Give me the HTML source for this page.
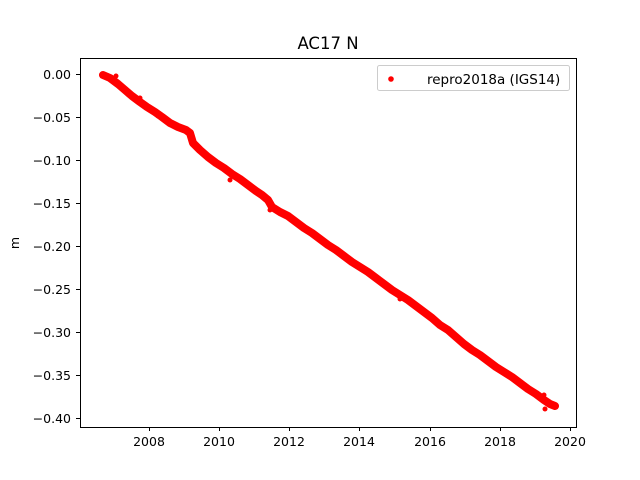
<!DOCTYPE html>
<html><head><meta charset="utf-8"><style>body{margin:0;background:#fff}svg{display:block}text{font-family:"DejaVu Sans","Liberation Sans",sans-serif;fill:#000}</style></head><body>
<svg width="640" height="480" viewBox="0 0 640 480">
<rect width="640" height="480" fill="#fff"/>
<text x="328" y="49" font-size="16.5" text-anchor="middle">AC17 N</text>
<g stroke="#f00" stroke-width="8" fill="none" stroke-linecap="round" stroke-linejoin="round">
<polyline points="103,75 110,78 118,84 125,90 132,96 140,102 147,107 155,112 162,117 170,123 178,127 186,130 190,133 193,143 200,150 208,157 216,163 224,168 232,174 240,179 248,185 256,191 262,195 268,200 272,207 280,212 288,216 296,222 304,228 312,233 320,239 328,245 336,250 344,256 352,262 360,267 368,272 376,278 384,284 392,290 400,295 408,300 416,306 424,312 432,318 440,325 448,330 456,337 464,344 472,350 480,355 488,361 496,367 504,372 512,377 520,383 528,389 536,394 544,400 550,404 555,406"/>
</g>
<g fill="#f00">
<circle cx="116" cy="76" r="2.5"/><circle cx="140" cy="98" r="2.5"/><circle cx="158" cy="116" r="2.5"/><circle cx="230" cy="180" r="2.5"/><circle cx="270" cy="210" r="2.5"/><circle cx="400" cy="299" r="2.5"/><circle cx="545" cy="409" r="2.5"/><circle cx="544" cy="395" r="2.5"/>
</g>
<rect x="80.5" y="58.5" width="496" height="369" fill="none" stroke="#000" stroke-width="1"/>
<g stroke="#000" stroke-width="1">
<line x1="80" y1="74.5" x2="76" y2="74.5"/><line x1="80" y1="117.5" x2="76" y2="117.5"/><line x1="80" y1="160.5" x2="76" y2="160.5"/><line x1="80" y1="203.5" x2="76" y2="203.5"/><line x1="80" y1="246.5" x2="76" y2="246.5"/><line x1="80" y1="289.5" x2="76" y2="289.5"/><line x1="80" y1="332.5" x2="76" y2="332.5"/><line x1="80" y1="375.5" x2="76" y2="375.5"/><line x1="80" y1="418.5" x2="76" y2="418.5"/>
<line x1="149.5" y1="427" x2="149.5" y2="431"/><line x1="219.5" y1="427" x2="219.5" y2="431"/><line x1="289.5" y1="427" x2="289.5" y2="431"/><line x1="359.5" y1="427" x2="359.5" y2="431"/><line x1="430.5" y1="427" x2="430.5" y2="431"/><line x1="500.5" y1="427" x2="500.5" y2="431"/><line x1="570.5" y1="427" x2="570.5" y2="431"/>
</g>
<g font-size="12.5" text-anchor="end">
<text x="71" y="79">0.00</text><text x="71" y="122">−0.05</text><text x="71" y="165">−0.10</text><text x="71" y="208">−0.15</text><text x="71" y="251">−0.20</text><text x="71" y="294">−0.25</text><text x="71" y="337">−0.30</text><text x="71" y="380">−0.35</text><text x="71" y="423">−0.40</text>
</g>
<g font-size="12.5" text-anchor="middle">
<text x="149" y="446">2008</text><text x="219" y="446">2010</text><text x="289" y="446">2012</text><text x="359" y="446">2014</text><text x="430" y="446">2016</text><text x="500" y="446">2018</text><text x="570" y="446">2020</text>
</g>
<text x="19" y="243" font-size="12.5" text-anchor="middle" transform="rotate(-90 19 243)">m</text>
<rect x="377.5" y="65.5" width="192" height="25" rx="2" fill="#fff" stroke="#ccc"/>
<circle cx="391" cy="79" r="2.8" fill="#f00"/>
<text x="427" y="84" font-size="13.5">repro2018a (IGS14)</text>
</svg>
</body></html>
